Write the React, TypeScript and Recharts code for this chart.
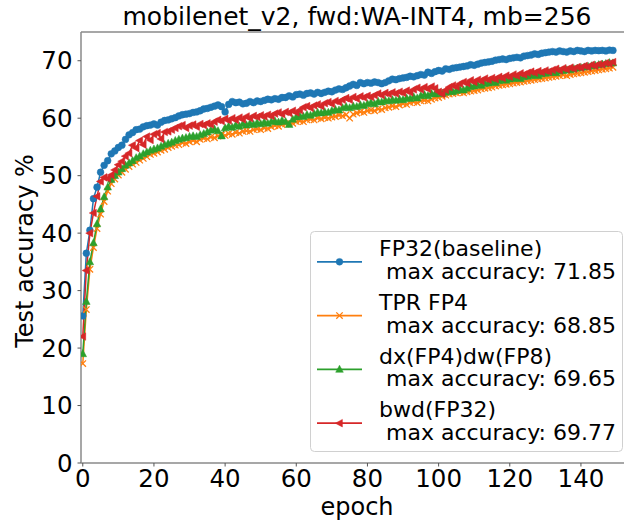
import React from 'react';
import { LineChart, Line, XAxis, YAxis, Legend, ReferenceLine, Customized } from 'recharts';

const FONT = '"DejaVu Sans", sans-serif';

const title = 'mobilenet_v2, fwd:WA-INT4, mb=256';
const xLabel = 'epoch';
const yLabel = 'Test accuracy %';
const xTicks = [0, 20, 40, 60, 80, 100, 120, 140];
const yTicks = [0, 10, 20, 30, 40, 50, 60, 70];

const epochs = Array.from({ length: 150 }, (_, i) => i);

const fp32 = [
  25.6, 36.5, 40.5, 46.0, 48.0, 50.6, 51.8, 52.6, 53.8, 54.3,
  54.9, 55.3, 56.3, 57.1, 57.5, 58.0, 58.1, 58.5, 58.7, 58.8,
  59.0, 58.8, 59.3, 59.6, 59.7, 59.9, 60.1, 60.4, 60.6, 60.7,
  60.8, 61.0, 61.1, 61.3, 61.6, 61.7, 61.9, 62.1, 62.3, 62.0,
  61.1, 62.4, 62.9, 62.7, 62.8, 62.5, 62.6, 62.9, 62.7, 63.0,
  62.9, 63.1, 63.3, 63.2, 63.4, 63.3, 63.6, 63.6, 63.9, 63.7,
  64.1, 64.2, 64.0, 64.3, 64.4, 64.2, 64.5, 64.3, 64.5, 64.7,
  64.6, 64.9, 65.1, 65.0, 65.3, 65.6, 65.9, 65.7, 66.2, 66.0,
  66.2, 66.1, 66.3, 66.2, 66.0, 66.2, 66.5, 66.8, 66.7, 66.9,
  67.0, 67.1, 67.3, 67.2, 67.4, 67.6, 67.5, 68.0, 67.8, 68.1,
  68.3, 68.2, 68.6, 68.5, 68.7, 68.8, 68.9, 69.0, 69.1, 69.3,
  69.2, 69.4, 69.6, 69.7, 69.8, 69.9, 70.1, 70.2, 70.3, 70.2,
  70.4, 70.5, 70.6, 70.5, 70.8, 70.9, 71.0, 71.2, 71.1, 71.3,
  71.4, 71.5, 71.6, 71.5, 71.7, 71.6, 71.5, 71.7, 71.6, 71.8,
  71.7, 71.6, 71.8, 71.7, 71.8, 71.75, 71.8, 71.7, 71.85, 71.8,
];

const tprFp4 = [
  17.3, 26.7, 33.7, 37.5, 40.8, 43.3, 45.5, 47.3, 48.6, 49.4,
  50.1, 50.6, 51.1, 51.6, 52.0, 52.3, 52.7, 53.0, 53.3, 53.7,
  53.9, 54.1, 54.4, 54.6, 54.9, 55.1, 55.3, 55.4, 55.7, 55.6,
  55.9, 56.1, 55.9, 56.3, 56.5, 56.4, 56.7, 56.6, 56.9, 57.1,
  57.0, 57.3, 57.2, 57.5, 57.4, 57.7, 57.8, 57.7, 58.0, 58.1,
  58.0, 58.3, 58.2, 58.5, 58.7, 58.6, 58.9, 59.0, 59.2, 59.1,
  59.4, 59.5, 59.4, 59.7, 59.8, 59.7, 60.0, 59.9, 60.1, 60.0,
  60.2, 60.3, 60.5, 60.4, 60.6, 60.0, 60.7, 60.9, 61.1, 61.0,
  61.3, 61.4, 61.3, 61.6, 61.5, 61.8, 61.9, 62.1, 62.0, 62.3,
  62.5, 62.4, 62.7, 62.8, 62.7, 63.0, 63.1, 63.0, 63.3, 63.5,
  63.6, 63.8, 64.0, 64.2, 64.3, 64.4, 64.5, 64.4, 64.6, 64.7,
  64.8, 64.9, 65.1, 65.2, 65.3, 65.4, 65.6, 65.7, 65.8, 65.9,
  66.0, 66.1, 66.2, 66.3, 66.4, 66.5, 66.6, 66.7, 66.8, 66.9,
  67.0, 67.1, 67.2, 67.3, 67.4, 67.5, 67.4, 67.6, 67.7, 67.8,
  67.9, 68.0, 68.1, 68.2, 68.3, 68.4, 68.5, 68.6, 68.7, 68.85,
];

const dxFp4dwFp8 = [
  19.0, 28.1, 35.0, 38.3, 41.6, 44.2, 46.3, 48.0, 49.3, 50.0,
  50.6, 51.2, 51.8, 52.2, 52.6, 53.1, 53.4, 53.8, 54.1, 54.4,
  54.6, 54.8, 55.1, 55.4, 55.6, 55.8, 56.1, 56.3, 56.5, 56.6,
  56.8, 56.9, 56.8, 57.1, 57.3, 57.6, 57.9, 58.1, 57.8, 56.9,
  58.3, 58.6, 58.4, 58.8, 58.6, 59.0, 58.8, 59.1, 58.9, 59.2,
  59.0, 59.3, 59.1, 59.4, 59.5, 59.3, 59.6, 59.4, 58.9, 59.8,
  60.2, 60.4, 60.3, 60.6, 60.5, 60.8, 61.0, 60.9, 61.1, 61.0,
  61.3, 61.5, 61.4, 61.8, 62.0, 61.8, 62.1, 62.0, 62.3, 62.2,
  62.5, 62.7, 62.5, 62.9, 62.8, 63.1, 63.0, 63.2, 63.1, 63.3,
  63.2, 63.5, 63.4, 63.7, 63.5, 63.9, 64.1, 63.9, 64.3, 64.2,
  64.4, 64.3, 64.5, 64.7, 64.6, 64.8, 65.0, 64.9, 65.2, 65.5,
  65.6, 65.8, 65.7, 66.0, 66.1, 66.3, 66.2, 66.5, 66.7, 66.6,
  66.8, 66.9, 67.0, 66.9, 67.2, 67.3, 67.4, 67.5, 67.4, 67.7,
  67.8, 67.9, 68.0, 67.9, 68.2, 68.3, 68.4, 68.4, 68.6, 68.7,
  68.8, 68.9, 69.0, 69.1, 69.2, 69.3, 69.4, 69.5, 69.65, 69.6,
];

const bwdFp32 = [
  22.0, 33.5, 40.0, 43.5, 46.4, 49.0, 49.7, 49.5, 50.1, 51.0,
  51.9, 52.5, 53.4, 53.9, 55.3, 54.8, 56.1, 55.4, 56.8, 56.2,
  57.2, 57.4, 56.4, 57.6, 57.7, 58.0, 58.3, 58.6, 58.8, 58.3,
  58.7, 58.9, 58.5, 59.0, 58.8, 59.1, 58.9, 59.4, 59.7, 59.5,
  59.9, 59.6, 60.0, 59.7, 60.1, 59.8, 60.3, 60.0, 60.4, 60.2,
  60.5, 60.3, 60.6, 60.4, 60.8, 61.0, 60.7, 61.1, 60.9, 61.3,
  61.0, 61.4, 61.9, 62.1, 61.8, 62.2, 62.4, 62.1, 62.6, 62.8,
  62.5, 63.0, 62.8, 63.2, 63.5, 63.2, 63.7, 63.4, 63.8, 63.6,
  63.9, 63.7, 64.0, 64.3, 64.0, 64.4, 64.2, 64.5, 64.3, 64.6,
  64.4, 64.8, 64.5, 65.0, 65.3, 65.0, 65.4, 65.1, 65.5, 65.2,
  64.6, 64.2, 64.9, 65.4, 65.7, 65.5, 66.0, 66.3, 66.1, 66.6,
  66.3, 66.7, 66.5, 66.9, 66.7, 67.0, 66.8, 67.2, 67.0, 67.4,
  67.2, 67.6, 67.4, 67.8, 67.6, 67.9, 68.1, 67.9, 68.2, 68.0,
  68.3, 68.1, 68.4, 68.6, 68.3, 68.7, 68.5, 68.8, 68.6, 68.9,
  68.8, 69.1, 68.9, 69.3, 69.1, 69.4, 69.3, 69.6, 69.5, 69.77,
];

const seriesKeys = ['fp32', 'tprFp4', 'dxFp4dwFp8', 'bwdFp32'];
const seriesNames = ['FP32(baseline)', 'TPR FP4', 'dx(FP4)dw(FP8)', 'bwd(FP32)'];
const seriesMax = ['71.85', '68.85', '69.65', '69.77'];
const seriesColors = ['#1f77b4', '#ff7f0e', '#2ca02c', '#d62728'];
const seriesMarkers = ['circle', 'x', 'triUp', 'triLeft'];
const seriesValues = [fp32, tprFp4, dxFp4dwFp8, bwdFp32];

const data = epochs.map((e, i) => {
  const row: any = { epoch: e };
  seriesKeys.forEach((k, j) => {
    row[k] = seriesValues[j][i];
  });
  return row;
});

function Marker({ type, cx, cy, color }: { type: string; cx: number; cy: number; color: string }) {
  if (cx == null || cy == null || isNaN(cx) || isNaN(cy)) return null;
  if (type === 'circle') return <circle cx={cx} cy={cy} r={3.4} fill={color} stroke={color} strokeWidth={0.5} />;
  if (type === 'x') {
    const s = 3.2;
    return (
      <path
        d={`M${cx - s},${cy - s}L${cx + s},${cy + s}M${cx - s},${cy + s}L${cx + s},${cy - s}`}
        stroke={color}
        strokeWidth={1.3}
        fill="none"
      />
    );
  }
  if (type === 'triUp') {
    return (
      <polygon
        points={`${cx},${cy - 4.2} ${cx - 3.8},${cy + 2.9} ${cx + 3.8},${cy + 2.9}`}
        fill={color}
        stroke={color}
        strokeWidth={0.5}
      />
    );
  }
  return (
    <polygon
      points={`${cx - 4.2},${cy} ${cx + 2.9},${cy - 3.8} ${cx + 2.9},${cy + 3.8}`}
      fill={color}
      stroke={color}
      strokeWidth={0.5}
    />
  );
}

function makeDot(j: number) {
  return (p: any) => (
    <Marker key={`m-${j}-${p.index}`} type={seriesMarkers[j]} cx={p.cx} cy={p.cy} color={seriesColors[j]} />
  );
}

function LegendBox() {
  const W = 313;
  const H = 221;
  const step = 53.8;
  return (
    <svg width={W} height={H} style={{ display: 'block', overflow: 'visible' }}>
      <rect x={0.5} y={0.5} width={W - 1} height={H - 1} rx={4} ry={4} fill="#ffffff" fillOpacity={0.8} stroke="#d0d0d0" strokeWidth={1} />
      {seriesNames.map((name, j) => {
        const base = 25 + j * step;
        const ly = base + 5.8;
        return (
          <g key={name}>
            <line x1={7} y1={ly} x2={52} y2={ly} stroke={seriesColors[j]} strokeWidth={1.8} />
            <Marker type={seriesMarkers[j]} cx={29.5} cy={ly} color={seriesColors[j]} />
            <text x={69} y={base} fontSize={22} fontFamily={FONT} fill="#000">{name}</text>
            <text x={69} y={base + 22.7} fontSize={22} fontFamily={FONT} fill="#000" xmlSpace="preserve">{` max accuracy: ${seriesMax[j]}`}</text>
          </g>
        );
      })}
    </svg>
  );
}

function Titles() {
  return (
    <g>
      <text x={357} y={25} textAnchor="middle" fontSize={25} fontFamily={FONT} fill="#000">{title}</text>
      <text x={357} y={515} textAnchor="middle" fontSize={24} fontFamily={FONT} fill="#000">{xLabel}</text>
      <text x={0} y={0} transform="translate(33,251) rotate(-90)" textAnchor="middle" fontSize={24} fontFamily={FONT} fill="#000">{yLabel}</text>
    </g>
  );
}

const axisColor = '#8a8a8a';
const tickStyle = { fontSize: 24.5, fill: '#000', fontFamily: FONT };

export default function App() {
  return (
    <div style={{ position: 'absolute', left: 0, top: 0, width: 624, height: 523, background: '#fff' }}>
      <LineChart width={624} height={523} data={data} margin={{ top: 32, right: 0, bottom: 0, left: 0 }}>
        <XAxis
          type="number"
          dataKey="epoch"
          domain={[-0.5, 152.1]}
          ticks={xTicks}
          interval={0}
          allowDataOverflow
          height={60}
          tickSize={3.5}
          tickMargin={3}
          tick={tickStyle}
          axisLine={{ stroke: axisColor, strokeWidth: 1.5 }}
          tickLine={{ stroke: '#555', strokeWidth: 1 }}
        />
        <YAxis
          type="number"
          domain={[0, 75]}
          ticks={yTicks}
          interval={0}
          allowDataOverflow
          width={81}
          tickSize={3.5}
          tickMargin={5}
          tick={tickStyle}
          axisLine={{ stroke: axisColor, strokeWidth: 1.5 }}
          tickLine={{ stroke: '#555', strokeWidth: 1 }}
        />
        <ReferenceLine y={75} stroke={axisColor} strokeWidth={1.5} />
        {seriesKeys.map((k, j) => (
          <Line
            key={k}
            type="linear"
            dataKey={k}
            name={seriesNames[j]}
            stroke={seriesColors[j]}
            strokeWidth={1.5}
            dot={makeDot(j)}
            activeDot={false}
            isAnimationActive={false}
          />
        ))}
        <Legend
          layout="horizontal"
          verticalAlign="middle"
          align="center"
          content={() => <LegendBox />}
          wrapperStyle={{ position: 'absolute', left: 310, top: 231, width: 313, height: 221 }}
        />
        <Customized component={Titles} />
      </LineChart>
    </div>
  );
}
